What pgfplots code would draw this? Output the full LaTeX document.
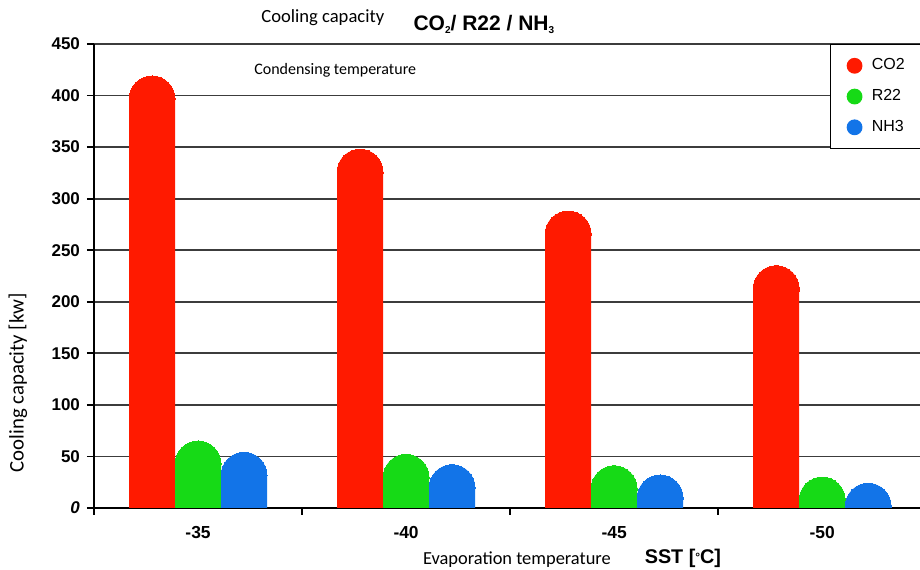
\documentclass[border=0pt]{standalone}
\usepackage{fontspec}
\setmainfont{Carlito}
\newfontfamily\arial{Liberation Sans}
\usepackage{pgfplots}
\pgfplotsset{compat=1.18}
\usepackage{pgfplotstable}
\definecolor{cored}{RGB}{255,26,0}
\definecolor{rgreen}{RGB}{22,218,22}
\definecolor{nblue}{RGB}{18,116,232}
\definecolor{gridc}{RGB}{60,60,60}

\pgfplotstableread{
x co2 r22 nh3
0 419 65 54
1 348 52 42
2 288 41 32
3 235 30 24
}\data

\begin{document}
\begin{tikzpicture}
\begin{axis}[
  name=ax,
  scale only axis, width=413pt, height=232pt,
  xmin=-0.5, xmax=3.47, ymin=0, ymax=450,
  axis x line*=bottom, axis y line*=left,
  axis line style={line width=1pt, black, -},
  ytick={0,50,...,450},
  yticklabels={\textit{0},50,100,150,200,250,300,350,400,450},
  yticklabel style={font=\arial\bfseries\fontsize{8.5}{10}\selectfont},
  ymajorgrids, grid style={gridc, line width=0.9pt},
  ytick style={black, line width=0.9pt},
  tick align=outside, major tick length=3.5pt,
  xtick={0,1,2,3}, xticklabels={-35,-40,-45,-50},
  xticklabel style={font=\arial\bfseries\fontsize{8.7}{10}\selectfont, yshift=-2pt},
  xtick style={draw=none},
  extra x ticks={-0.5,0.5,1.5,2.5},
  extra x tick labels={},
  extra x tick style={xtick style={draw=black, line width=0.9pt}},
  clip marker paths=true,
  legend style={at={(rel axis cs:0.891,1)}, anchor=north west, draw=black,
    line width=0.7pt, fill=white,
    font=\arial\fontsize{8}{9.6}\selectfont,
    inner xsep=8pt, inner ysep=5pt, row sep=4.3pt},
  legend cell align=left,
]
\addplot[ybar, bar width=23pt, bar shift=0pt, color=cored, fill=cored, draw=none, yshift=-11.5pt,
  mark=*, mark size=11.5pt, mark options={fill=cored, draw=cored, line width=0pt}, forget plot]
  table[x expr=\thisrow{x}-0.221, y=co2] {\data};
\addplot[ybar, bar width=23pt, bar shift=0pt, color=rgreen, fill=rgreen, draw=none, yshift=-11.5pt,
  mark=*, mark size=11.5pt, mark options={fill=rgreen, draw=rgreen, line width=0pt}, forget plot]
  table[x=x, y=r22] {\data};
\addplot[ybar, bar width=23pt, bar shift=0pt, color=nblue, fill=nblue, draw=none, yshift=-11.5pt,
  mark=*, mark size=11.5pt, mark options={fill=nblue, draw=nblue, line width=0pt}, forget plot]
  table[x expr=\thisrow{x}+0.221, y=nh3] {\data};
\addlegendimage{legend image code/.code={\fill[cored] (0pt,0pt) circle (3.6pt); \path[draw=none,fill=none] (0pt,0pt) rectangle (6.6pt,0.1pt);}}
\addlegendentry{CO2\phantom{MMM}}
\addlegendimage{legend image code/.code={\fill[rgreen] (0pt,0pt) circle (3.6pt); \path[draw=none,fill=none] (0pt,0pt) rectangle (6.6pt,0.1pt);}}
\addlegendentry{R22\phantom{MMM}}
\addlegendimage{legend image code/.code={\fill[nblue] (0pt,0pt) circle (3.6pt); \path[draw=none,fill=none] (0pt,0pt) rectangle (6.6pt,0.1pt);}}
\addlegendentry{NH3\phantom{MMM}}
\node[font=\fontsize{8}{9.6}\selectfont] at (rel axis cs:0.292,0.944) {Condensing temperature};
\coordinate (t1) at (rel axis cs:0.277,1);
\coordinate (t2) at (rel axis cs:0.472,1);
\coordinate (b1) at (rel axis cs:0.512,0);
\coordinate (b2) at (rel axis cs:0.713,0);
\coordinate (yl) at (rel axis cs:0,0.27);
\end{axis}
\node[font=\fontsize{9.3}{11}\selectfont] at ([yshift=13pt]t1) {Cooling capacity};
\node[font=\arial\bfseries\fontsize{10.5}{12}\selectfont] at ([yshift=10pt]t2) {CO{\fontsize{5}{5}\selectfont\raisebox{-1.5pt}{2}}/ R22 / NH{\fontsize{5}{5}\selectfont\raisebox{-1.5pt}{3}}};
\node[font=\fontsize{9.2}{11}\selectfont] at ([yshift=-26pt]b1) {Evaporation temperature};
\node[font=\arial\bfseries\fontsize{9.9}{12}\selectfont] at ([yshift=-25pt]b2) {SST [\raisebox{1pt}{\fontsize{6}{6}\selectfont °}C]};
\node[font=\fontsize{10.4}{12}\selectfont, rotate=90] at ([xshift=-38pt]yl) {Cooling capacity [kw]};
\pgfresetboundingbox
\path ([xshift=-47pt,yshift=-31pt]ax.south west) rectangle ([yshift=22pt]ax.north east);
\end{tikzpicture}
\end{document}
